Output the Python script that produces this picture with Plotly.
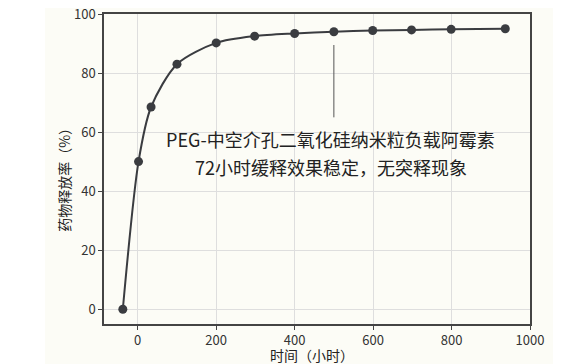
import plotly.graph_objects as go

# Data
times = [-38, 2, 34, 100, 200, 298, 400, 500, 599, 698, 799, 937]
release = [0, 50.0, 68.5, 83.0, 90.2, 92.5, 93.4, 94.0, 94.4, 94.6, 94.8, 95.0]
x_ticks = [0, 200, 400, 600, 800, 1000]
y_ticks = [0, 20, 40, 60, 80, 100]
note_line1 = "PEG-中空介孔二氧化硅纳米粒负载阿霉素"
note_line2 = "72小时缓释效果稳定，无突释现象"
x_title = "时间（小时）"
y_title = "药物释放率（%）"
note_index = 7  # point the callout line hangs from

FONT = "Noto Sans CJK SC, Noto Sans, sans-serif"
CREAM = "#fcfcf6"
DARK = "#3a3c40"

fig = go.Figure()
fig.add_trace(go.Scatter(
    x=times, y=release, mode="lines+markers",
    line=dict(color=DARK, width=2, shape="spline", smoothing=0.8),
    marker=dict(color=DARK, size=9),
    showlegend=False, hoverinfo="skip",
))

# cream backdrop behind the whole chart body
fig.add_shape(type="rect", xref="paper", yref="paper",
              x0=-0.1385, x1=1.054, y0=-0.16, y1=1.06,
              fillcolor=CREAM, line=dict(width=0), layer="below")

nx = times[note_index]
fig.add_shape(type="line", xref="x", yref="y",
              x0=nx, x1=nx, y0=release[note_index] - 4.5, y1=65,
              line=dict(color="#555555", width=1))

fig.add_annotation(x=nx - 8, y=57.8, xref="x", yref="y", text=note_line1,
                   showarrow=False, font=dict(family=FONT, size=18, color="#222222"))
fig.add_annotation(x=nx - 8, y=48.2, xref="x", yref="y", text=note_line2,
                   showarrow=False, font=dict(family=FONT, size=18, color="#222222"))

# axis titles
fig.add_annotation(x=0.488, y=-0.1, xref="paper", yref="paper", text=x_title,
                   xanchor="center", yanchor="middle", showarrow=False,
                   font=dict(family=FONT, size=14, color="#222222"))
fig.add_annotation(x=-0.094, y=0.478, xref="paper", yref="paper", text=y_title,
                   xanchor="center", yanchor="middle", textangle=-90, showarrow=False,
                   font=dict(family=FONT, size=14, color="#222222"))

axis_common = dict(
    showgrid=True, gridcolor="#dedede", gridwidth=1,
    showline=True, linecolor="#444444", linewidth=1.5, mirror=True,
    ticks="outside", ticklen=4, tickcolor="#444444",
    tickfont=dict(family=FONT, size=13, color="#333333"),
    zeroline=False, automargin=False, ticklabeloverflow="allow",
)

fig.update_xaxes(range=[-86, 1000], tickvals=x_ticks, **axis_common)
fig.update_yaxes(range=[-5, 100], tickvals=y_ticks, **axis_common)

fig.update_layout(
    width=578, height=364,
    margin=dict(l=96, r=56, t=6, b=48, autoexpand=False),
    paper_bgcolor="white", plot_bgcolor=CREAM,
    font=dict(family=FONT),
)

fig.write_html("out.html")
